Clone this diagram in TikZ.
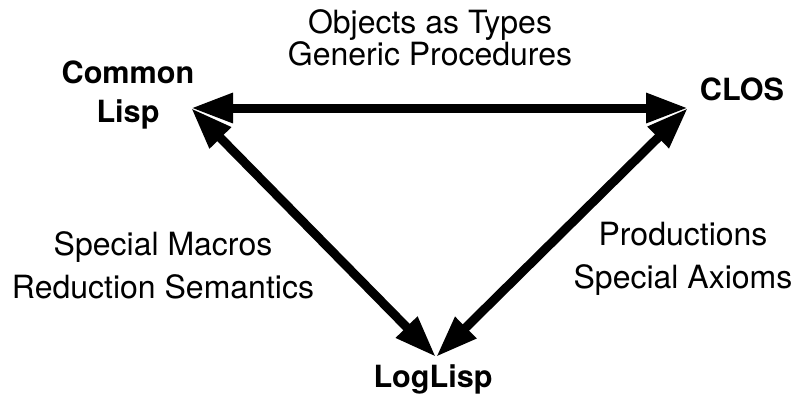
\documentclass[tikz,border=0pt]{standalone}
\usepackage{fontspec}
\setmainfont{TeX Gyre Heros}
\usetikzlibrary{arrows.meta}

\begin{document}
\begin{tikzpicture}[x=0.5pt, y=-0.5pt, line join=miter,
    lang/.style={font=\fontsize{15.3}{16}\selectfont\bfseries, inner sep=0pt, anchor=base, align=center},
    note/.style={font=\fontsize{16}{16}\selectfont, inner sep=0pt, anchor=base, align=center},
    link/.style={line width=4.5pt, {Triangle[length=21pt,width=14pt]}-{Triangle[length=21pt,width=14pt]}}]
  \useasboundingbox (0,0) rectangle (796,398);
  % where the heads meet
  \coordinate (lisp) at (191,108);
  \coordinate (clos) at (688,108);
  \coordinate (loglisp) at (436,357);
  \node[lang] (lisptext) at (128,122) {Common\\[3.5pt]Lisp};
  \node[lang] (clostext) at (742,100) {CLOS};
  \node[lang] (loglisptext) at (433,387) {LogLisp};
  \node[note] (top) at (430,65) {Objects as Types\\Generic Procedures};
  \node[note] (left) at (163,298) {Special Macros\\[5.5pt]Reduction Semantics};
  \node[note] (right) at (683,288) {Productions\\[5.5pt]Special Axioms};
  \draw[link] (lisp) -- (clos);
  \draw[link] (lisp) -- (loglisp);
  \draw[link] (clos) -- (loglisp);
\end{tikzpicture}
\end{document}
